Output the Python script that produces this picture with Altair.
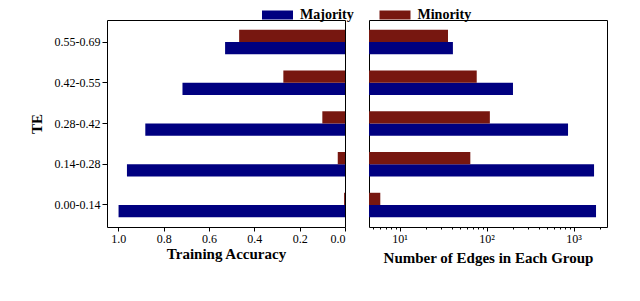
import altair as alt
import pandas as pd

te = ["0.00-0.14", "0.14-0.28", "0.28-0.42", "0.42-0.55", "0.55-0.69"]
groups = ["Majority", "Minority"]
acc_major = [0.999, 0.962, 0.881, 0.717, 0.529]
acc_minor = [0.004, 0.032, 0.100, 0.272, 0.467]
edges_major = [1810, 1718, 863, 201, 41]
edges_minor = [6, 65, 109, 77, 36]
acc_ticks = [0.0, 0.2, 0.4, 0.6, 0.8, 1.0]
log_major = [10, 100, 1000]
log_minor = [5, 6, 7, 8, 9, 20, 30, 40, 50, 60, 70, 80, 90,
             200, 300, 400, 500, 600, 700, 800, 900, 2000]

rows = []
for i, t in enumerate(te):
    rows.append(dict(te=t, group="Majority", acc=acc_major[i], edges=edges_major[i]))
    rows.append(dict(te=t, group="Minority", acc=acc_minor[i], edges=edges_minor[i]))
df = pd.DataFrame(rows)

NAVY = "#000080"
RED = "#771710"
FONT = "Liberation Serif"

y_order = te[::-1]
yscale = alt.Scale(domain=y_order, paddingInner=0.4, paddingOuter=0.24)
yoff = alt.YOffset("group:N", scale=alt.Scale(domain=["Minority", "Majority"]))
cscale = alt.Scale(domain=groups, range=[NAVY, RED])

# wide, flat swatch: 31 x 9 px with symbolSize 100 (unit = 5 px)
legend = alt.Legend(
    title=None, orient="none", legendX=163.5, legendY=-12, direction="horizontal",
    symbolType="M-3.1,-0.9L3.1,-0.9L3.1,0.9L-3.1,0.9Z", symbolSize=100,
    symbolStrokeWidth=0, labelFont=FONT, labelFontSize=14, labelFontWeight="bold",
    labelColor="black", columnPadding=24.5, labelOffset=15.5,
)
color = alt.Color("group:N", scale=cscale, legend=legend)
frame = alt.ViewBackground(stroke="black", strokeWidth=1)

left = alt.Chart(df).mark_bar().encode(
    x=alt.X("acc:Q", stack=None,
            scale=alt.Scale(domain=[0, 1.05], reverse=True, nice=False, zero=True),
            axis=alt.Axis(values=acc_ticks, format=".1f", title="Training Accuracy",
                          grid=False, domain=False, tickSize=4, labelPadding=2,
                          titlePadding=2)),
    y=alt.Y("te:N", scale=yscale, sort=y_order,
            axis=alt.Axis(title="TE", grid=False, domain=False, tickSize=5,
                          labelPadding=2, titlePadding=10)),
    yOffset=yoff,
    color=color,
).properties(width=238, height=207, view=frame)

tick_cond = {"condition": {"test": "indexof([10,100,1000], datum.value) >= 0", "value": 4}, "value": 2}
label_expr = "datum.value == 10 ? '10¹' : datum.value == 100 ? '10²' : datum.value == 1000 ? '10³' : ''"

right = alt.Chart(df).mark_bar().encode(
    x=alt.X("edges:Q", stack=None,
            scale=alt.Scale(type="log", domain=[4.45, 2420], nice=False),
            axis=alt.Axis(values=log_minor + log_major, labelExpr=label_expr,
                          title="Number of Edges in Each Group", grid=False,
                          domain=False, tickSize=tick_cond, labelPadding=2,
                          titlePadding=6)),
    x2=alt.value(0),
    y=alt.Y("te:N", scale=yscale, sort=y_order, axis=None),
    yOffset=yoff,
    color=color,
).properties(width=238, height=207, view=frame)

chart = alt.hconcat(left, right, spacing=22).resolve_scale(
    x="independent"
).properties(
    padding={"left": 20, "top": 0, "right": 5, "bottom": 0}
).configure_view(stroke="black", strokeWidth=1).configure_axis(
    labelFont=FONT, titleFont=FONT, labelFontSize=12, titleFontSize=15,
    titleFontWeight="bold", labelColor="black", titleColor="black",
    tickColor="black",
)

chart.save("out.html", embed_options={"renderer": "svg", "actions": False})
